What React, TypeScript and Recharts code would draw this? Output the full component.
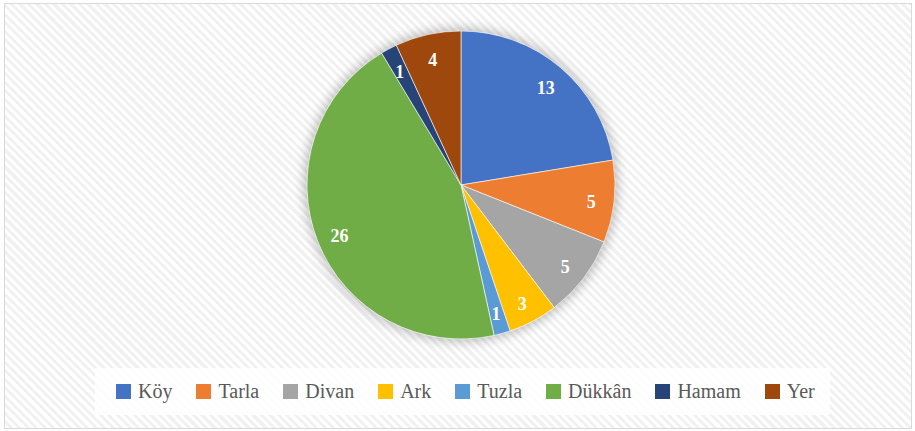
import React from 'react';
import { PieChart, Pie, Cell, Legend } from 'recharts';

const categories = ['Köy', 'Tarla', 'Divan', 'Ark', 'Tuzla', 'Dükkân', 'Hamam', 'Yer'];
const values = [13, 5, 5, 3, 1, 26, 1, 4];
const colors = ['#4472C4', '#ED7D31', '#A5A5A5', '#FFC000', '#5B9BD5', '#70AD47', '#264478', '#9E480E'];

const data = categories.map((name, i) => ({ name, value: values[i] }));

const RAD = Math.PI / 180;
const FONT = '"Liberation Serif", "DejaVu Serif", serif';

const renderLabel = (props: any) => {
  const { cx, cy, midAngle, outerRadius, value } = props;
  const r = outerRadius * 0.85;
  const x = cx + r * Math.cos(-midAngle * RAD);
  const y = cy + r * Math.sin(-midAngle * RAD) + 3;
  return (
    <text x={x} y={y} fill="#ffffff" textAnchor="middle" dominantBaseline="central"
      style={{ fontFamily: FONT, fontWeight: 700, fontSize: 18 }}>
      {value}
    </text>
  );
};

const renderLegend = () => (
  <div style={{ width: '100%', height: '100%', background: 'rgba(255,255,255,0.85)', display: 'flex', alignItems: 'center', paddingLeft: 21, boxSizing: 'border-box', fontFamily: FONT }}>
    {data.map((d, i) => (
      <div key={d.name} style={{ display: 'flex', alignItems: 'center', marginRight: 24 }}>
        <span style={{ display: 'inline-block', width: 15, height: 15, background: colors[i], marginRight: 7 }} />
        <span style={{ fontFamily: FONT, fontSize: 20, color: '#595959' }}>{d.name}</span>
      </div>
    ))}
  </div>
);

export default function App() {
  return (
    <div style={{ position: 'absolute', left: 0, top: 0, width: 915, height: 431 }}>
      <div style={{
        position: 'absolute', left: 4, top: 3, width: 906, height: 424,
        border: '1px solid #d9d9d9',
        background: 'repeating-linear-gradient(45deg, #ffffff 0px, #ffffff 3px, #f1f1f1 3px, #f1f1f1 6px)',
      }} />
      <div style={{
        position: 'absolute', left: 307, top: 31, width: 308, height: 308, borderRadius: '50%',
        boxShadow: '0 0 12px 2px rgba(0,0,0,0.28)',
      }} />
      <div style={{ position: 'absolute', left: 0, top: 0 }}>
        <PieChart width={915} height={431} margin={{ top: 0, right: 0, bottom: 0, left: 0 }}>
          <Pie
            data={data}
            dataKey="value"
            nameKey="name"
            cx={461}
            cy={185}
            outerRadius={154}
            startAngle={90}
            endAngle={-270}
            stroke="#ffffff"
            strokeWidth={0.6}
            label={renderLabel}
            labelLine={false}
            isAnimationActive={false}
          >
            {data.map((d, i) => (
              <Cell key={d.name} fill={colors[i]} />
            ))}
          </Pie>
          <Legend
            content={renderLegend}
            wrapperStyle={{ position: 'absolute', left: 95, top: 368, width: 735, height: 47 }}
          />
        </PieChart>
      </div>
    </div>
  );
}
